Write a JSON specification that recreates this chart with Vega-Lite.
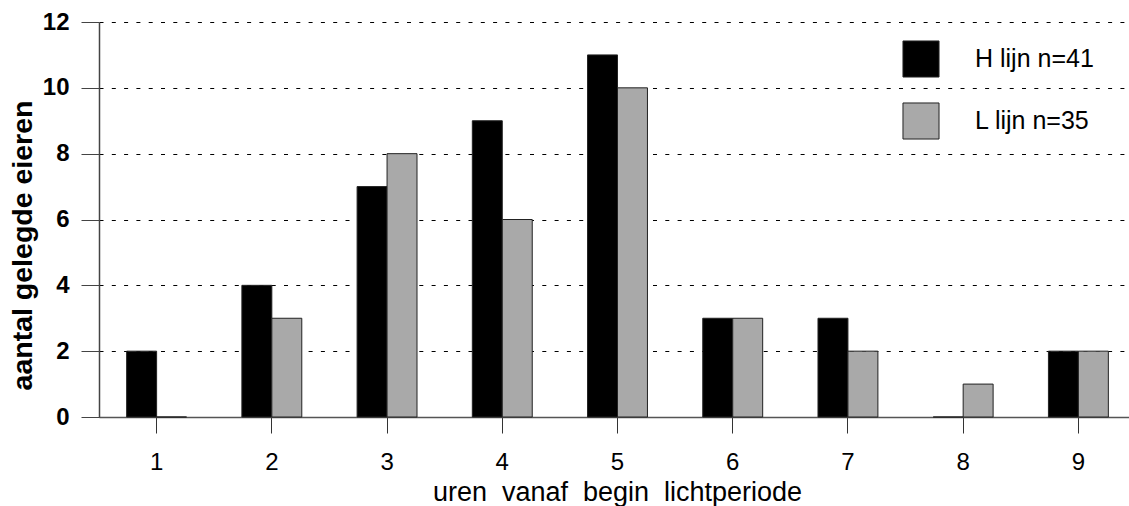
{
  "$schema": "https://vega.github.io/schema/vega-lite/v6.json",
  "width": 1030,
  "height": 395,
  "autosize": {"type": "none"},
  "padding": {"left": 99, "top": 22, "right": 0, "bottom": 89},
  "background": "white",
  "data": {
    "values": [
      {"uur": "1", "lijn": "H lijn n=41", "aantal": 2},
      {"uur": "2", "lijn": "H lijn n=41", "aantal": 4},
      {"uur": "3", "lijn": "H lijn n=41", "aantal": 7},
      {"uur": "4", "lijn": "H lijn n=41", "aantal": 9},
      {"uur": "5", "lijn": "H lijn n=41", "aantal": 11},
      {"uur": "6", "lijn": "H lijn n=41", "aantal": 3},
      {"uur": "7", "lijn": "H lijn n=41", "aantal": 3},
      {"uur": "8", "lijn": "H lijn n=41", "aantal": 0},
      {"uur": "9", "lijn": "H lijn n=41", "aantal": 2},
      {"uur": "1", "lijn": "L lijn n=35", "aantal": 0},
      {"uur": "2", "lijn": "L lijn n=35", "aantal": 3},
      {"uur": "3", "lijn": "L lijn n=35", "aantal": 8},
      {"uur": "4", "lijn": "L lijn n=35", "aantal": 6},
      {"uur": "5", "lijn": "L lijn n=35", "aantal": 10},
      {"uur": "6", "lijn": "L lijn n=35", "aantal": 3},
      {"uur": "7", "lijn": "L lijn n=35", "aantal": 2},
      {"uur": "8", "lijn": "L lijn n=35", "aantal": 1},
      {"uur": "9", "lijn": "L lijn n=35", "aantal": 2}
    ]
  },
  "config": {
    "view": {"stroke": null},
    "font": "Liberation Sans"
  },
  "mark": {"type": "bar", "stroke": "#222", "strokeWidth": 1},
  "encoding": {
    "x": {
      "field": "uur", "type": "nominal",
      "scale": {"paddingInner": 0.48, "paddingOuter": 0.24, "range": [0, 1037]},
      "axis": {
        "title": "uren\u00a0 vanaf\u00a0 begin\u00a0 lichtperiode",
        "titleFont": "Liberation Sans", "titleFontSize": 27, "titleFontWeight": "normal",
        "titleColor": "black", "titleBaseline": "alphabetic", "titleY": 83, "titleX": 518, "titleAlign": "center",
        "labelAngle": 0, "labelFontSize": 24, "labelColor": "black", "labelBaseline": "alphabetic", "labelPadding": 36,
        "tickSize": 16, "tickColor": "#333", "domainColor": "#555", "domainWidth": 1.5,
        "grid": false
      }
    },
    "xOffset": {"field": "lijn", "type": "nominal"},
    "y": {
      "field": "aantal", "type": "quantitative",
      "scale": {"domain": [0, 12]},
      "axis": {
        "title": "aantal gelegde eieren",
        "titleFontSize": 28.5, "titleFontWeight": "bold", "titleColor": "black",
        "titleBaseline": "alphabetic", "titleX": -68, "titleY": 223, "titleAlign": "center", "titleAngle": -90,
        "values": [0, 2, 4, 6, 8, 10, 12],
        "labelFontSize": 24, "labelFontWeight": "bold", "labelColor": "black", "labelPadding": 12,
        "tickSize": 18, "tickColor": "#444", "domainColor": "#444", "domainWidth": 1.5,
        "grid": true, "gridColor": "black", "gridDash": [4, 8.3], "gridWidth": 1.2
      }
    },
    "color": {
      "field": "lijn", "type": "nominal",
      "scale": {"range": ["#000000", "#a9a9a9"]},
      "legend": {
        "title": null, "orient": "none", "legendX": 803, "legendY": 18,
        "symbolType": "square", "symbolSize": 1300, "symbolStrokeColor": "#222", "symbolStrokeWidth": 1,
        "labelFontSize": 25, "labelColor": "black", "labelOffset": 35, "rowPadding": 20, "padding": 0
      }
    }
  }
}
